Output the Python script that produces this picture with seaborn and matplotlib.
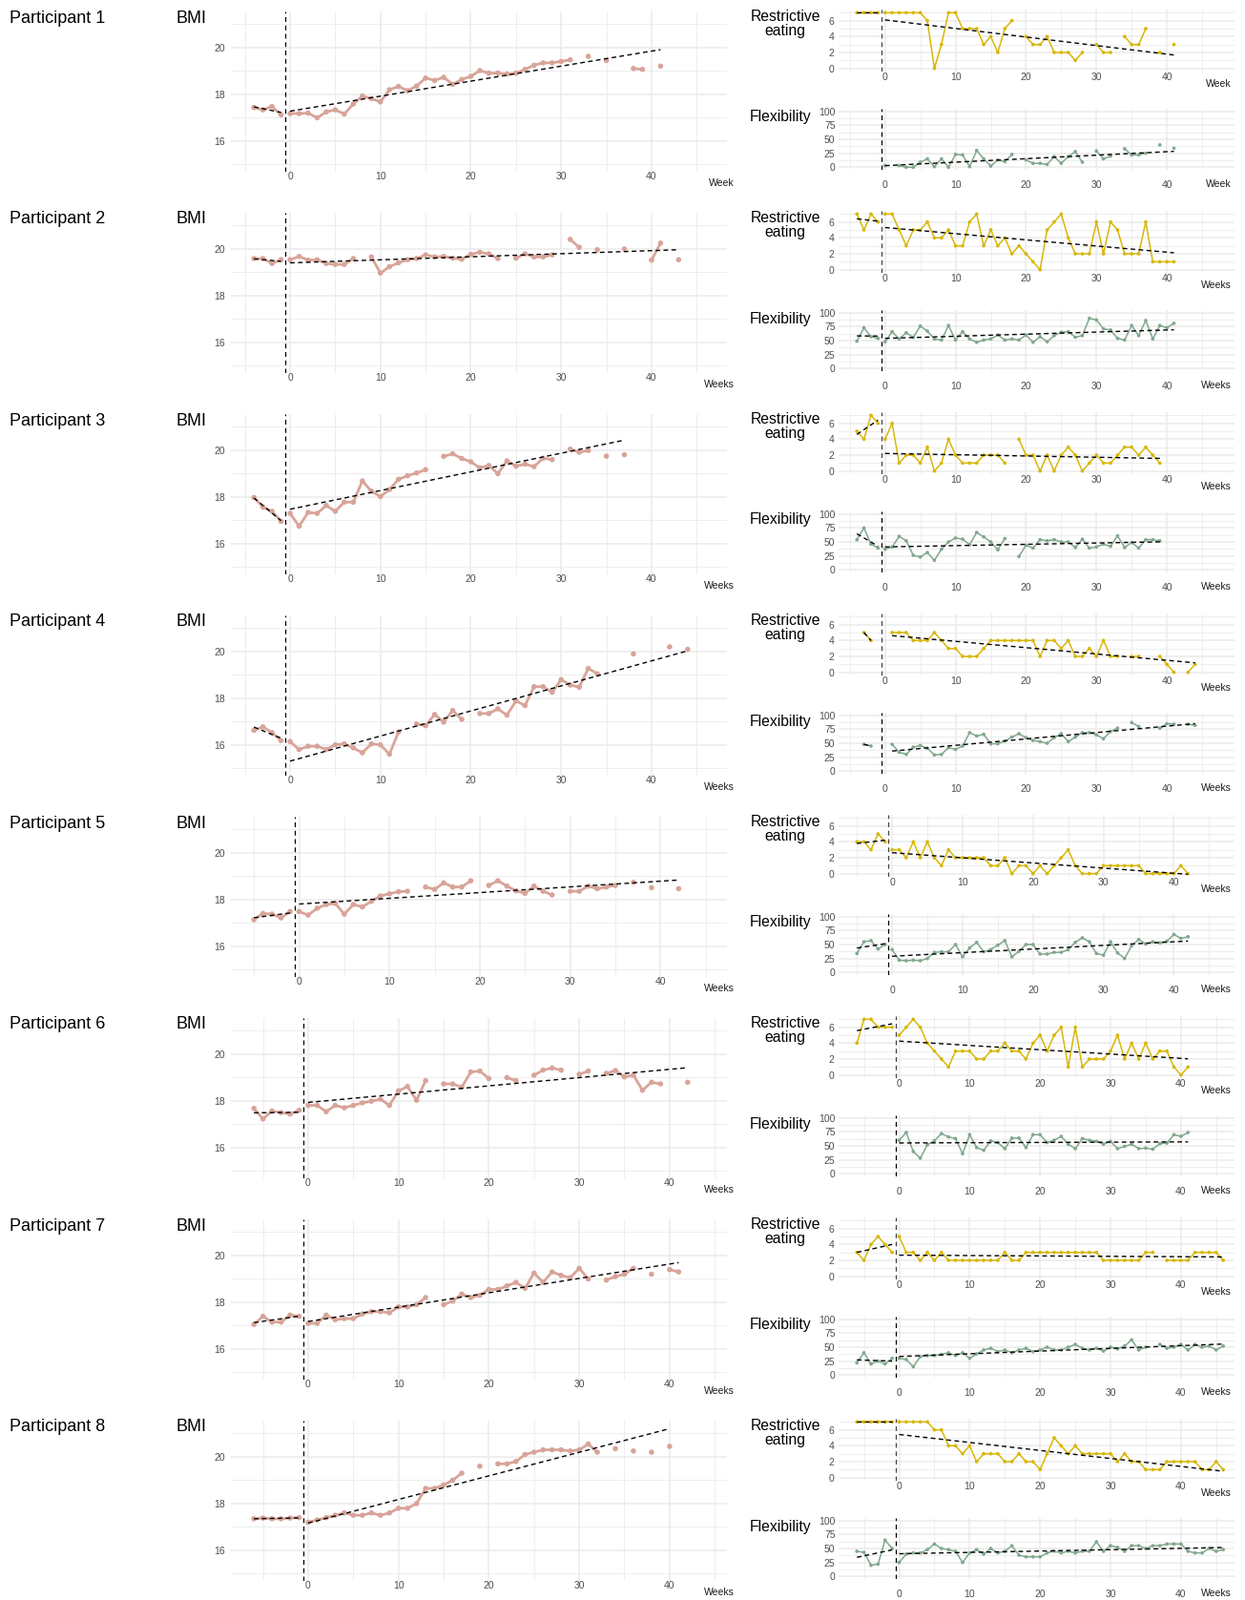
import numpy as np
import pandas as pd
import matplotlib
matplotlib.use("Agg")
import matplotlib.pyplot as plt
import seaborn as sns
from matplotlib.ticker import FixedLocator

NA = np.nan

# ---------------- data ----------------
participants = ["Participant 1", "Participant 2", "Participant 3", "Participant 4",
                "Participant 5", "Participant 6", "Participant 7", "Participant 8"]
start_weeks = [-4, -4, -4, -4, -5, -6, -6, -6]
week_titles = ["Week", "Weeks", "Weeks", "Weeks", "Weeks", "Weeks", "Weeks", "Weeks"]

x_ticks = [0, 10, 20, 30, 40]
x_minor = [-5, 5, 15, 25, 35, 45]
bmi_ticks = [16, 18, 20]
bmi_minor = [15, 17, 19, 21]
restrictive_ticks = [0, 2, 4, 6]
restrictive_minor = [1, 3, 5, 7]
flexibility_ticks = [0, 25, 50, 75, 100]
flexibility_minor = [12.5, 37.5, 62.5, 87.5]

p1_bmi = [17.44, 17.34, 17.48, 17.13,
          17.18, 17.18, 17.20, 17.00, 17.25, 17.34, 17.16, 17.59, 17.93, 17.82,
          17.68, 18.20, 18.34, 18.16, 18.36, 18.70, 18.60, 18.73, 18.43, 18.64,
          18.77, 19.02, 18.91, 18.91, 18.87, 18.91, 19.07, 19.25, 19.35, 19.35,
          19.41, 19.48, NA, 19.63, NA, 19.45, NA, NA, 19.11, 19.07,
          NA, 19.21]
p1_restrictive = [7, 7, 7, 7,
                  7, 7, 7, 7, 7, 7, 6, 0, 3, 7,
                  7, 5, 5, 5, 3, 4, 2, 5, 6, NA,
                  4, 3, 3, 4, 2, 2, 2, 1, 2, NA,
                  3, 2, 2, NA, 4, 3, 3, 5, NA, 2,
                  NA, 3]
p1_flexibility = [NA, NA, NA, NA,
                  3, NA, 3, 0, 0, 9, 15, 1, 15, 0,
                  23, 22, 1, 30, 15, 2, 13, 10, 23, NA,
                  13, 7, 7, 5, 19, 7, 19, 28, 9, NA,
                  29, 15, 20, NA, 33, 22, 22, 25, NA, 40,
                  NA, 34]

p2_bmi = [19.59, 19.59, 19.38, 19.54,
          19.54, 19.68, 19.52, 19.54, 19.38, 19.34, 19.34, 19.59, NA, 19.66,
          18.97, 19.24, 19.41, 19.54, 19.59, 19.75, 19.66, 19.68, 19.61, 19.56,
          19.77, 19.86, 19.79, 19.59, NA, 19.61, 19.79, 19.66, 19.66, 19.75,
          NA, 20.41, 20.07, NA, 19.97, NA, NA, 20.00, NA, NA,
          19.52, 20.25, NA, 19.54]
p2_restrictive = [7, 5, 7, 6,
                  7, 7, 5, 3, 5, 5, 6, 4, 4, 5,
                  3, 3, 6, 7, 3, 5, 3, 4, 2, 3,
                  2, 1, 0, 5, 6, 7, 4, 2, 2, 2,
                  6, 2, 6, 5, 2, 2, 2, 6, 1, 1,
                  1, 1]
p2_flexibility = [49, 73, 57, 54,
                  48, 66, 53, 64, 56, 76, 67, 53, 51, 77,
                  51, 66, 53, 47, 51, 53, 60, 51, 53, 51,
                  60, 47, 57, 48, 59, 65, 66, 56, 59, 90,
                  87, 71, 69, 54, 51, 77, 59, 86, 53, 77,
                  73, 81]

p3_bmi = [17.98, 17.57, 17.39, 16.96,
          17.30, 16.75, 17.34, 17.30, 17.64, 17.39, 17.78, 17.78, 18.69, 18.25,
          18.02, 18.32, 18.76, 18.91, 19.03, 19.17, NA, 19.74, 19.85, 19.65,
          19.51, 19.25, 19.35, 19.00, 19.55, 19.32, 19.41, 19.30, 19.66, 19.60,
          NA, 20.05, 19.92, 19.99, NA, 19.75, NA, 19.81]
p3_restrictive = [5, 4, 7, 6,
                  4, 6, 1, 2, 2, 1, 3, 0, 1, 4,
                  2, 1, 1, 1, 2, 2, 2, 1, NA, 4,
                  2, 2, 0, 2, 0, 2, 3, 2, 0, 1,
                  2, 1, 1, 2, 3, 3, 2, 3, 2, 1]
p3_flexibility = [54, 75, 46, 39,
                  37, 41, 60, 52, 26, 23, 31, 17, 37, 50,
                  57, 55, 45, 67, 59, 50, 36, 56, NA, 24,
                  44, 39, 54, 52, 54, 50, 50, 40, 55, 39,
                  41, 46, 42, 61, 40, 49, 39, 54, 54, 52]

p4_bmi = [16.63, 16.78, 16.53, 16.19,
          16.15, 15.81, 15.95, 15.95, 15.81, 16.01, 16.05, 15.88, 15.67, 16.05,
          16.01, 15.61, 16.56, NA, 16.90, 16.83, 17.31, 16.98, 17.48, 17.10,
          NA, 17.35, 17.35, 17.55, 17.28, 17.89, 17.69, 18.50, 18.50, 18.26,
          18.80, 18.57, 18.48, 19.28, 19.05, NA, NA, NA, 19.90, NA,
          NA, NA, 20.20, NA, 20.10]
p4_restrictive = [NA, 5, 4, NA,
                  NA, 5, 5, 5, 4, 4, 4, 5, 4, 3,
                  3, 2, 2, 2, 3, 4, 4, 4, 4, 4,
                  4, 4, 2, 4, 4, 3, 4, 2, 2, 3,
                  2, 4, 2, 2, NA, 2, 2, NA, NA, 2,
                  1, 0, NA, 0, 1]
p4_flexibility = [NA, 48, 45, NA,
                  NA, 48, 34, 30, 43, 46, 41, 29, 30, 42,
                  39, 45, 69, 63, 66, 49, 49, 54, 61, 67,
                  60, 55, 53, 50, 60, 67, 53, 61, 69, 69,
                  65, 58, 71, 77, NA, 87, 80, NA, NA, 77,
                  85, 84, NA, 84, 82]

p5_bmi = [17.14, 17.41, 17.38, 17.22, 17.49,
          17.49, 17.34, 17.63, 17.79, 17.84, 17.38, 17.79, 17.69, 17.93, 18.16,
          18.25, 18.34, 18.36, NA, 18.54, 18.44, 18.72, 18.54, 18.54, 18.81,
          NA, 18.61, 18.81, 18.58, 18.38, 18.27, 18.58, 18.36, 18.20, NA,
          18.36, 18.36, 18.58, 18.47, 18.54, 18.61, NA, 18.74, NA, 18.51,
          NA, NA, 18.47]
p5_restrictive = [4, 4, 3, 5, 4,
                  3, 3, 2, 4, 2, 4, 2, 1, 3, 2,
                  2, 2, 2, 2, 1, 1, 2, 0, 1, 1,
                  0, 1, 0, 1, 2, 3, 1, 0, 0, 0,
                  1, 1, 1, 1, 1, 1, 0, 0, 0, 0,
                  0, 1, 0]
p5_flexibility = [34, 55, 57, 42, 50,
                  41, 22, 21, 22, 21, 25, 36, 37, 37, 50,
                  28, 44, 54, 37, 41, 49, 57, 28, 38, 50,
                  50, 33, 33, 36, 36, 41, 54, 62, 55, 34,
                  31, 55, 35, 25, 48, 59, 51, 55, 53, 56,
                  68, 61, 64]

p6_bmi = [17.68, 17.23, 17.57, 17.50, 17.44, 17.60,
          17.81, 17.81, 17.54, 17.81, 17.71, 17.81, 17.92, 17.99, 18.08, 17.81,
          18.43, 18.62, 18.03, 18.87, NA, 18.73, 18.73, 18.59, 19.24, 19.28,
          18.96, NA, 19.00, 18.87, NA, 19.10, 19.32, 19.41, 19.32, NA,
          19.14, 19.28, NA, 19.18, 19.30, 19.03, 19.10, 18.46, 18.80, 18.73,
          NA, NA, 18.80]
p6_restrictive = [4, 7, 7, 6, 6, 6,
                  5, 6, 7, 6, 4, 3, 2, 1, 3, 3,
                  3, 2, 2, 3, 3, 4, 3, 3, 2, 4,
                  5, 3, 5, 6, 1, 6, 1, 2, 2, 2,
                  3, 5, 2, 4, 2, 4, 2, 3, 3, 1,
                  0, 1]
p6_flexibility = [NA, NA, NA, NA, NA, NA,
                  60, 74, 40, 28, 52, 59, 72, 66, 63, 36,
                  70, 47, 42, 59, 56, 45, 64, 64, 47, 70,
                  70, 56, 60, 67, 53, 45, 63, 60, 58, 53,
                  58, 45, 49, 53, 45, 46, 44, 54, 55, 70,
                  67, 74]

p7_bmi = [17.05, 17.40, 17.15, 17.15, 17.45, 17.40,
          17.10, 17.10, 17.45, 17.25, 17.30, 17.30, 17.50, 17.60, 17.60, 17.55,
          17.80, 17.80, 17.90, 18.20, NA, 17.90, 18.05, 18.35, 18.20, 18.30,
          18.55, 18.55, 18.70, 18.85, 18.60, 19.25, 18.85, 19.30, 19.15, 19.05,
          19.45, 19.00, NA, 18.95, 19.10, 19.20, 19.45, NA, 19.20, NA,
          19.40, 19.30]
p7_restrictive = [3, 2, 4, 5, 4, 3,
                  5, 3, 3, 2, 3, 2, 3, 2, 2, 2,
                  2, 2, 2, 2, 2, 3, 2, 2, 3, 3,
                  3, 3, 3, 3, 3, 3, 3, 3, 3, 2,
                  2, 2, 2, 2, 2, 3, 3, NA, 2, 2,
                  2, 2, 3, 3, 3, 3, 2]
p7_flexibility = [22, 40, 20, 25, 20, 30,
                  30, 28, 15, 33, 35, 35, 37, 40, 35, 40,
                  30, 38, 45, 48, 42, 45, 40, 45, 48, 42,
                  45, 50, 45, 45, 50, 55, 48, 45, 48, 43,
                  50, 47, 52, 63, 45, 50, NA, 55, 48, 50,
                  55, 45, 55, 50, 52, 45, 52]

p8_bmi = [17.35, 17.38, 17.35, 17.35, 17.38, 17.40,
          17.20, 17.30, 17.40, 17.50, 17.60, 17.50, 17.50, 17.60, 17.50, 17.60,
          17.80, 17.80, 18.00, 18.65, 18.65, 18.80, 19.00, 19.30, NA, 19.60,
          NA, 19.70, 19.70, 19.80, 20.10, 20.20, 20.30, 20.30, 20.30, 20.25,
          20.30, 20.55, 20.20, NA, 20.35, NA, 20.25, NA, 20.20, NA,
          20.45]
p8_restrictive = [7, 7, 7, 7, 7, 7,
                  7, 7, 7, 7, 7, 6, 6, 4, 4, 3,
                  4, 2, 3, 3, 3, 2, 2, 3, 2, 2,
                  1, 3, 5, 4, 3, 4, 3, 3, 3, 3,
                  3, 2, 3, 2, 2, 1, 1, 1, 2, 2,
                  2, 2, 2, 1, 1, 2, 1]
p8_flexibility = [45, 43, 20, 22, 65, 50,
                  25, 40, 42, 42, 48, 58, 50, 48, 45, 25,
                  42, 48, 40, 50, 42, 45, 55, 38, 35, 35,
                  35, 42, 45, 42, 45, 42, 45, 45, 62, 45,
                  55, 52, 45, 55, 55, 50, 55, 55, 58, 58,
                  58, 45, 42, 42, 50, 45, 48]

bmi_series = [p1_bmi, p2_bmi, p3_bmi, p4_bmi, p5_bmi, p6_bmi, p7_bmi, p8_bmi]
restrictive_series = [p1_restrictive, p2_restrictive, p3_restrictive, p4_restrictive,
                      p5_restrictive, p6_restrictive, p7_restrictive, p8_restrictive]
flexibility_series = [p1_flexibility, p2_flexibility, p3_flexibility, p4_flexibility,
                      p5_flexibility, p6_flexibility, p7_flexibility, p8_flexibility]

# ---------------- styling ----------------
BMI_COLOR = "#D8A499"
RESTRICT_COLOR = "#D8B70A"
FLEX_COLOR = "#81A88D"
GRID = "#EBEBEB"
TICK_COLOR = "#4D4D4D"

sns.set_theme(style="white")
plt.rcParams['font.family'] = ['Liberation Sans', 'DejaVu Sans']

W, H = 1305, 1677
fig = plt.figure(figsize=(W / 100, H / 100), dpi=100)
fig.patch.set_facecolor("white")
ROW = 211.0


def px_axes(x0, y0, x1, y1):
    return fig.add_axes([x0 / W, 1 - y1 / H, (x1 - x0) / W, (y1 - y0) / H])


def px_text(x, y, s, **kw):
    fig.text(x / W, 1 - y / H, s, **kw)


def make_frame(values, start):
    weeks = np.arange(start, start + len(values))
    df = pd.DataFrame({"week": weeks, "value": np.array(values, dtype=float)})
    df["phase"] = np.where(df["week"] < 0, "Baseline", "Treatment")
    df = df.dropna().reset_index(drop=True)
    brk = (df["week"].diff() != 1) | (df["phase"] != df["phase"].shift())
    df["seg"] = brk.cumsum()
    return df


def draw_series(ax, values, start, color, lw, ms, vline_color="black"):
    df = make_frame(values, start)
    ax.axvline(-0.5, color=vline_color, ls=(0, (4, 3)), lw=0.9, zorder=2)
    sns.lineplot(data=df, x="week", y="value", units="seg", estimator=None,
                 color=color, lw=lw, ax=ax, zorder=3)
    sns.scatterplot(data=df, x="week", y="value", color=color, s=ms,
                    edgecolor="none", linewidth=0, ax=ax, zorder=4)
    for ph in ["Baseline", "Treatment"]:
        sub = df[df["phase"] == ph]
        if len(sub) >= 2:
            sns.regplot(data=sub, x="week", y="value", scatter=False, ci=None,
                        truncate=True, ax=ax,
                        line_kws=dict(color="black", lw=1.0, ls=(0, (3.5, 2.5)), zorder=5))


def style_axes(ax, xlim, ylim, yticks, yminor, fs, ypad, xpad):
    ax.set_xlim(xlim)
    ax.set_ylim(ylim)
    ax.set_xticks(x_ticks)
    ax.xaxis.set_minor_locator(FixedLocator(x_minor))
    ax.set_yticks(yticks)
    ax.yaxis.set_minor_locator(FixedLocator(yminor))
    ax.grid(True, which="major", color=GRID, lw=1.1)
    ax.grid(True, which="minor", color=GRID, lw=0.6)
    ax.set_axisbelow(True)
    ax.set_facecolor("white")
    for s in ax.spines.values():
        s.set_visible(False)
    ax.tick_params(which="both", length=0, labelsize=fs, labelcolor=TICK_COLOR)
    ax.tick_params(axis="y", pad=ypad)
    ax.tick_params(axis="x", pad=xpad)
    ax.set_xlabel("")
    ax.set_ylabel("")


for i, name in enumerate(participants):
    top = i * ROW
    start = start_weeks[i]

    # titles
    px_text(10, top + 19, name, fontsize=13, ha="left", va="center", color="black")
    px_text(184, top + 19, "BMI", fontsize=13, ha="left", va="center", color="black")
    px_text(823, top + 25, "Restrictive\neating", fontsize=11.3, ha="center",
            va="center", linespacing=1.0, color="black")
    px_text(818, top + 123, "Flexibility", fontsize=11.3, ha="center",
            va="center", color="black")

    # BMI panel
    ax = px_axes(242, top + 12, 762, top + 180)
    draw_series(ax, bmi_series[i], start, BMI_COLOR, lw=2.0, ms=16)
    bl = start - 2.55
    style_axes(ax, (bl, bl + 54.9), (14.69, 21.55), bmi_ticks, bmi_minor, 7.5, 4.3, 0.3)
    px_text(770, top + 192, week_titles[i], fontsize=7.5, ha="right", va="center",
            color="#1A1A1A")

    # Restrictive eating panel
    rl = start - 2.6
    ax = px_axes(879, top + 10.4, 1294, top + 74.6)
    draw_series(ax, restrictive_series[i], start, RESTRICT_COLOR, lw=1.1, ms=7,
                vline_color="#444444")
    style_axes(ax, (rl, rl + 56.2), (-0.35, 7.35), restrictive_ticks, restrictive_minor,
               7.5, 3.5, 1.2)
    px_text(1291, top + 88, week_titles[i], fontsize=7.5, ha="right", va="center",
            color="#1A1A1A")

    # Flexibility panel
    ax = px_axes(879, top + 113.8, 1294, top + 178.2)
    draw_series(ax, flexibility_series[i], start, FLEX_COLOR, lw=1.1, ms=7)
    style_axes(ax, (rl, rl + 56.2), (-5, 105), flexibility_ticks, flexibility_minor,
               7.5, 2.5, 7.5)
    px_text(1291, top + 193, week_titles[i], fontsize=7.5, ha="right", va="center",
            color="#1A1A1A")

fig.savefig("out.png", dpi=100, facecolor="white")
